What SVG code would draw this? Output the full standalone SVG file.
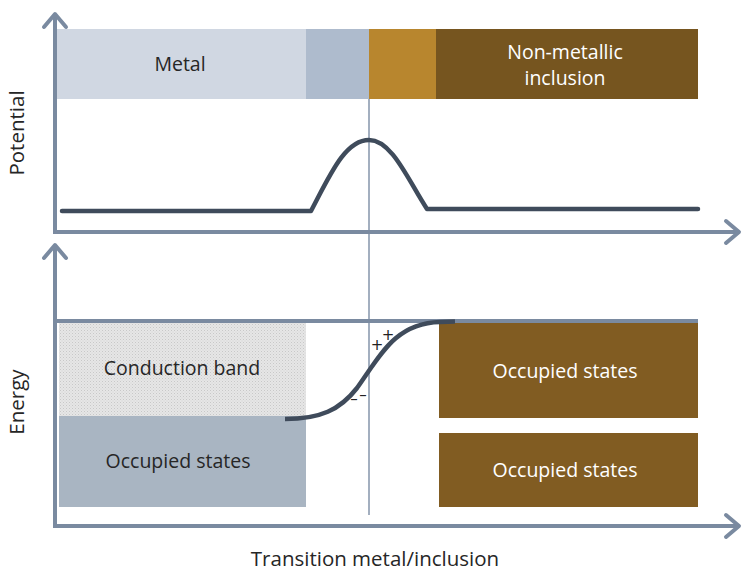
<svg xmlns="http://www.w3.org/2000/svg" width="743" height="571" viewBox="0 0 743 571">
  <defs>
    <style>
      .axis { stroke: #7a8aa0; stroke-width: 4; fill: none; }
      .guide { stroke: #8c9bb0; stroke-width: 1.6; fill: none; }
      .curve { stroke: #3f4b5b; stroke-width: 4.5; fill: none; stroke-linecap: round; stroke-linejoin: round; }
      .lbl { font-family: "Open Sans", "Noto Sans", "Liberation Sans", sans-serif; font-size: 19.5px; text-anchor: middle; }
      .title { font-size: 20.5px; }
      .dark { fill: #262626; }
      .light { fill: #ffffff; }
      .sign { font-family: "DejaVu Sans", "Liberation Sans", sans-serif; font-size: 15px; fill: #222; text-anchor: middle; }
    </style>
    <marker id="chev" viewBox="-16 -14 20 28" markerWidth="20" markerHeight="28" refX="0" refY="0" orient="auto" markerUnits="userSpaceOnUse">
      <polyline points="-13,-11 0,0 -13,11" fill="none" stroke="#7a8aa0" stroke-width="4" stroke-linecap="round" stroke-linejoin="round"/>
    </marker>
    <pattern id="stipple" width="3" height="3" patternUnits="userSpaceOnUse">
      <rect width="3" height="3" fill="#e6e6e6"/>
      <rect width="1" height="1" fill="#c8c8c8"/>
      <rect x="1.5" y="1.5" width="1" height="1" fill="#d2d2d2"/>
    </pattern>
  </defs>

  <!-- upper panel: material bands -->
  <g id="band-metal">
    <rect x="55" y="29" width="251" height="70" fill="#d0d7e2"/>
    <text class="lbl dark" x="180" y="71">Metal</text>
  </g>
  <g id="band-metal-edge">
    <rect x="306" y="29" width="63" height="70" fill="#aebbcd"/>
  </g>
  <g id="band-inclusion-edge">
    <rect x="369" y="29" width="67" height="70" fill="#b8862e"/>
  </g>
  <g id="band-inclusion">
    <rect x="436" y="29" width="262" height="70" fill="#76551f"/>
    <text class="lbl light" x="565" y="59">Non-metallic</text>
    <text class="lbl light" x="565" y="85">inclusion</text>
  </g>

  <!-- lower panel: energy bands -->
  <g id="conduction-band">
    <rect x="59" y="323" width="247" height="93" fill="url(#stipple)"/>
    <text class="lbl dark" x="182" y="375">Conduction band</text>
  </g>
  <g id="metal-occupied">
    <rect x="59" y="416" width="247" height="91" fill="#a9b5c2"/>
    <text class="lbl dark" x="178" y="468">Occupied states</text>
  </g>
  <g id="inclusion-occupied-upper">
    <rect x="439" y="323" width="259" height="95" fill="#815c22"/>
    <text class="lbl light" x="565" y="378">Occupied states</text>
  </g>
  <g id="inclusion-occupied-lower">
    <rect x="439" y="433" width="259" height="74" fill="#815c22"/>
    <text class="lbl light" x="565" y="477">Occupied states</text>
  </g>

  <!-- axes, interface line and curves -->
  <g id="connectors">
    <line class="guide" x1="369" y1="99" x2="369" y2="515"/>
    <line class="axis" x1="55" y1="233" x2="55" y2="14" marker-end="url(#chev)"/>
    <line class="axis" x1="53" y1="232" x2="739" y2="232" marker-end="url(#chev)"/>
    <line class="axis" x1="55" y1="528" x2="55" y2="245" marker-end="url(#chev)"/>
    <line class="axis" x1="53" y1="526" x2="739" y2="526" marker-end="url(#chev)"/>
    <line class="axis" x1="57" y1="321" x2="698" y2="321"/>
    <path class="curve" d="M62,211 L311,211 C330,175 345,140 369,140 C392,140 408,180 427,209 L698,209"/>
    <path class="curve" style="stroke-linecap:butt" d="M285,419 C320,419 340,410 357,388 C380,356 395,323 440,322 L455,321.5"/>
  </g>

  <g id="charges">
    <text class="sign" x="377" y="350">+</text>
    <text class="sign" x="388" y="340">+</text>
    <text class="sign" x="354" y="404">–</text>
    <text class="sign" x="363" y="400">–</text>
  </g>

  <!-- axis titles -->
  <text class="lbl title dark" transform="translate(24,133) rotate(-90)">Potential</text>
  <text class="lbl title dark" transform="translate(24,402) rotate(-90)">Energy</text>
  <text class="lbl title dark" x="375" y="566">Transition metal/inclusion</text>
</svg>
